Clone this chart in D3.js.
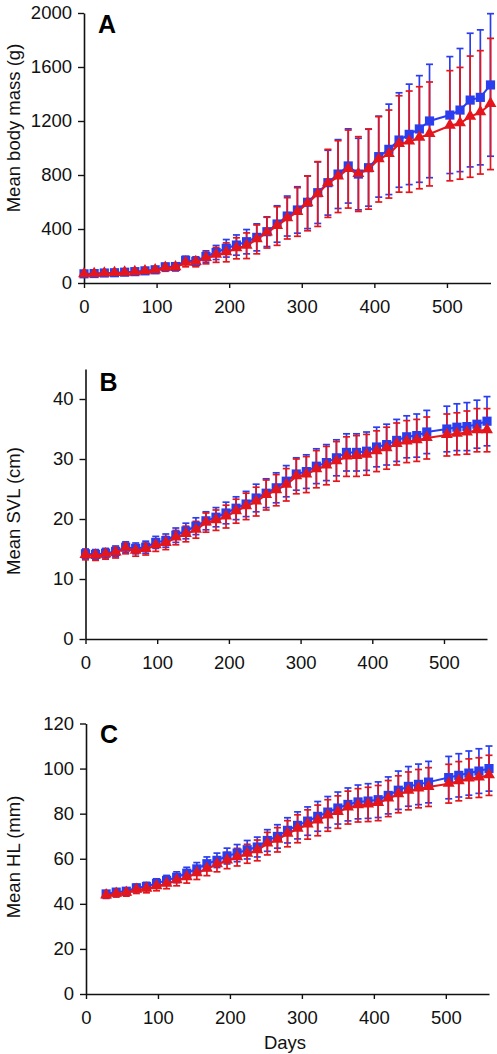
<!DOCTYPE html>
<html>
<head>
<meta charset="utf-8">
<script src="https://cdn.jsdelivr.net/npm/d3@7"></script>
<style>
html,body{margin:0;padding:0;background:#fff;}
svg{display:block;font-family:"Liberation Sans",Arial,Helvetica,sans-serif;}
</style>
</head>
<body>
<svg id="chart" width="497" height="1054"></svg>
<script>
// ---------- DATA ----------
const daysAB = [0,14,28,42,56,70,84,98,112,126,140,154,168,182,196,210,224,238,252,266,280,294,308,322,336,350,364,378,392,406,420,434,448,462,476,504,518,532,546,560];
const daysC  = [28,42,56,70,84,98,112,126,140,154,168,182,196,210,224,238,252,266,280,294,308,322,336,350,364,378,392,406,420,434,448,462,476,504,518,532,546,560];

const massBlue   = [68,70,74,76,80,84,90,98,120,122,168,160,196,226,257,281,306,338,380,437,496,541,598,669,743,807,867,807,854,936,990,1059,1101,1141,1200,1244,1281,1355,1375,1467];
const massBlueSD = [14,14,15,16,17,18,19,21,24,26,30,34,42,52,65,75,90,100,110,135,148,172,195,228,240,255,275,265,285,300,335,350,372,395,420,433,456,495,500,528];
const massRed    = [64,66,70,73,76,80,86,94,112,116,150,155,185,208,227,257,276,323,373,422,479,526,590,659,738,788,844,807,844,916,955,1030,1047,1076,1104,1165,1183,1232,1264,1326];
const massRedSD  = [15,15,16,17,18,19,20,22,25,27,30,35,43,55,70,78,95,107,114,143,153,180,203,240,252,266,289,277,297,316,326,357,375,378,385,408,414,449,457,486];

const svlBlue   = [14.2,14.1,14.3,14.6,15.3,15.1,15.3,16.1,16.4,17.3,18.0,18.8,19.7,20.3,21.0,21.8,22.5,23.5,24.3,25.2,26.3,27.5,27.9,28.8,29.4,30.2,31.1,31.1,31.3,32.0,32.4,33.1,33.7,33.9,34.5,35.0,35.3,35.4,35.8,36.3];
const svlBlueSD = [0.8,0.8,0.8,0.9,0.9,0.9,1.0,1.0,1.1,1.2,1.3,1.4,1.5,1.6,1.8,1.9,2.1,2.3,2.4,2.5,2.6,2.7,2.8,2.9,3.0,3.0,3.1,3.1,3.2,3.3,3.4,3.5,3.5,3.6,3.6,3.8,3.9,4.0,4.0,4.1];
const svlRed    = [14.0,13.9,14.1,14.4,15.1,14.7,15.0,15.6,16.0,16.9,17.5,18.2,19.4,19.8,20.4,21.3,22.1,22.9,24.0,24.8,25.7,27.1,27.4,28.3,28.9,29.6,30.4,30.5,30.7,31.3,31.8,32.5,32.9,33.1,33.5,34.0,34.2,34.4,34.8,34.8];
const svlRedSD  = [0.8,0.8,0.8,0.9,0.9,0.9,1.0,1.0,1.1,1.2,1.3,1.4,1.6,1.7,1.9,2.0,2.2,2.4,2.5,2.6,2.7,2.9,3.0,3.1,3.2,3.3,3.3,3.4,3.4,3.4,3.5,3.5,3.5,3.5,3.5,3.5,3.5,3.6,3.6,3.6];

const hlBlue   = [44.4,45.2,45.6,47.1,47.7,49.1,50.4,51.8,53.6,55.5,57.8,59.3,61.2,62.5,64.0,65.2,68.1,69.9,72.6,74.8,76.7,78.8,80.7,82.5,84.1,85.2,85.6,86.2,88.1,90.4,92.1,93.0,94.0,96.0,97.0,98.0,98.9,100.0];
const hlBlueSD = [1.3,1.4,1.5,1.6,1.8,2.0,2.2,2.4,2.6,2.8,3.0,3.2,3.5,3.8,4.1,4.4,4.8,5.2,5.6,6.0,6.3,6.6,6.9,7.1,7.3,7.5,7.7,7.9,8.2,8.5,8.8,9.0,9.2,9.4,9.6,9.8,9.9,10.0];
const hlRed    = [43.7,44.4,44.9,46.2,46.7,47.8,48.9,50.4,51.8,53.6,55.5,57.5,59.2,60.7,62.2,63.7,66.7,68.4,71.1,73.3,75.2,77.0,79.2,80.7,82.7,83.7,84.1,84.7,86.7,88.6,90.1,91.1,91.8,93.3,94.4,95.6,96.0,97.0];
const hlRedSD  = [1.3,1.4,1.5,1.6,1.8,2.0,2.2,2.4,2.6,2.8,3.0,3.3,3.6,3.9,4.2,4.6,5.0,5.4,5.8,6.2,6.5,6.8,7.0,7.2,7.3,7.4,7.6,7.8,8.0,8.2,8.4,8.5,8.6,8.6,8.7,8.7,8.8,8.9];

const xTicks = [0,100,200,300,400,500];
const yTicksA = [0,400,800,1200,1600,2000];
const yTicksB = [0,10,20,30,40];
const yTicksC = [0,20,40,60,80,100,120];
const panelLetters = ["A","B","C"];
const yTitles = ["Mean body mass (g)","Mean SVL (cm)","Mean HL (mm)"];
const xTitle = "Days";

// ---------- LAYOUT ----------
const BLUE = "#2a3ef0", RED = "#e4151b";
const panels = [
  {letter:panelLetters[0], title:yTitles[0], days:daysAB, b:massBlue, bsd:massBlueSD, r:massRed, rsd:massRedSD,
   yDom:[0,2000], yTicks:yTicksA, x0:84, x1:490.5, yTop:13, yBot:283, titleY:128, letterY:33},
  {letter:panelLetters[1], title:yTitles[1], days:daysAB, b:svlBlue, bsd:svlBlueSD, r:svlRed, rsd:svlRedSD,
   yDom:[0,45], yTicks:yTicksB, x0:85.5, x1:487, yTop:369, yBot:639, titleY:511, letterY:391},
  {letter:panelLetters[2], title:yTitles[2], days:daysC, b:hlBlue, bsd:hlBlueSD, r:hlRed, rsd:hlRedSD,
   yDom:[0,120], yTicks:yTicksC, x0:86, x1:489, yTop:723.5, yBot:994, titleY:857, letterY:743}
];

const svg = d3.select("#chart");
const FS = 18.5;

panels.forEach((p, pi) => {
  const x = d3.scaleLinear().domain([0,560]).range([p.x0, p.x1]);
  const y = d3.scaleLinear().domain(p.yDom).range([p.yBot, p.yTop]);
  const g = svg.append("g");

  // axes
  const ax = g.append("g").attr("transform", `translate(0,${p.yBot})`)
    .call(d3.axisBottom(x).tickValues(xTicks).tickFormat(d3.format("d")).tickSizeInner(5).tickSizeOuter(0).tickPadding(12));
  const ay = g.append("g").attr("transform", `translate(${p.x0},0)`)
    .call(d3.axisLeft(y).tickValues(p.yTicks).tickFormat(d3.format("d")).tickSizeInner(6).tickSizeOuter(0).tickPadding(6));
  [ax, ay].forEach(a => {
    a.selectAll("path.domain").attr("stroke","#111").attr("stroke-width",1.6);
    a.selectAll(".tick line").attr("stroke","#111").attr("stroke-width",1.4);
    a.selectAll(".tick text").attr("font-size",FS).attr("fill","#111")
      .attr("font-family",'"Liberation Sans",Arial,sans-serif');
  });

  // y title
  g.append("text").attr("transform", `translate(19.5,${p.titleY}) rotate(-90)`)
    .attr("text-anchor","middle").attr("font-size",FS).attr("fill","#111").text(p.title);
  // panel letter
  g.append("text").attr("x", p.x0 + 14).attr("y", p.letterY)
    .attr("font-size",25).attr("font-weight","bold").attr("fill","#000").text(p.letter);

  const series = [
    {vals:p.b, sd:p.bsd, color:BLUE, shape:"square"},
    {vals:p.r, sd:p.rsd, color:RED, shape:"triangle"}
  ];
  const capW = 3.5;
  // error bars: blue first, red over
  series.forEach(s => {
    const eg = g.append("g").attr("stroke", s.color).attr("stroke-width",1.7).attr("fill","none");
    p.days.forEach((d,i) => {
      const cx = x(d), yu = y(s.vals[i] + s.sd[i]), yl = y(s.vals[i] - s.sd[i]);
      eg.append("line").attr("x1",cx).attr("x2",cx).attr("y1",yu).attr("y2",yl);
      eg.append("line").attr("x1",cx-capW).attr("x2",cx+capW).attr("y1",yu).attr("y2",yu);
      eg.append("line").attr("x1",cx-capW).attr("x2",cx+capW).attr("y1",yl).attr("y2",yl);
    });
  });
  // lines and markers
  series.forEach(s => {
    const line = d3.line().x((d,i)=>x(p.days[i])).y(d=>y(d));
    g.append("path").datum(s.vals).attr("d", line).attr("fill","none")
      .attr("stroke", s.color).attr("stroke-width",2);
    const sym = s.shape === "square"
      ? d3.symbol().type(d3.symbolSquare).size(84)
      : d3.symbol().type(d3.symbolTriangle).size(62);
    g.append("g").selectAll("path").data(s.vals).join("path")
      .attr("d", sym)
      .attr("transform", (d,i) => `translate(${x(p.days[i])},${y(d) + (s.shape==="triangle" ? -0.5 : 0)})`)
      .attr("fill", s.color);
  });

  if (pi === 2) {
    svg.append("text").attr("x", 285).attr("y", 1049).attr("text-anchor","middle")
      .attr("font-size",FS).attr("fill","#111").text(xTitle);
  }
});
</script>
</body>
</html>
